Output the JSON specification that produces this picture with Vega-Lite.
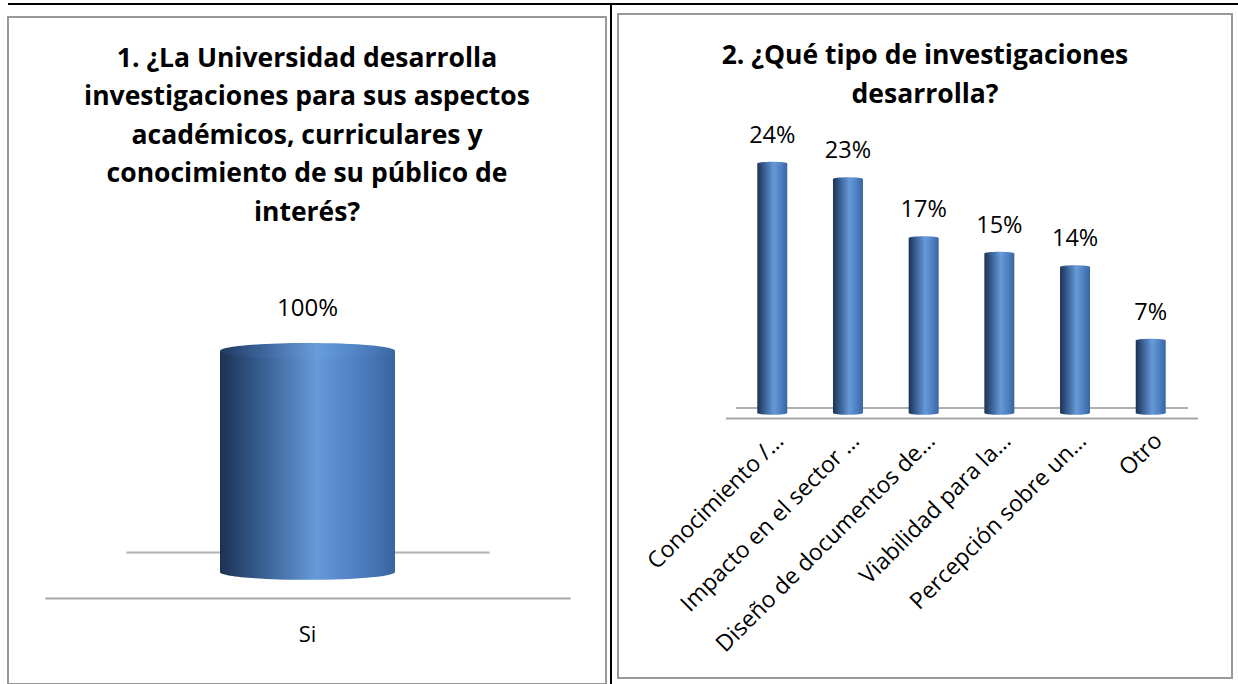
{
  "$schema": "https://vega.github.io/schema/vega-lite/v6.json",
  "padding": {"left": 7, "top": 3, "right": 0, "bottom": 0},
  "background": "white",
  "config": {"font": "Open Sans", "concat": {"spacing": 0}, "view": {"stroke": "#999999", "strokeWidth": 2}},
  "spacing": 0,
  "hconcat": [
    {
      "spacing": 11,
      "vconcat": [
        {
          "width": 602, "height": 2,
          "view": {"fill": "black", "stroke": null},
          "data": {"values": []},
          "mark": "text",
          "encoding": {}
        },
        {
          "width": 598, "height": 667,
          "title": {
            "text": ["1. ¿La Universidad desarrolla", "investigaciones para sus aspectos", "académicos, curriculares y", "conocimiento de su público de", "interés?"],
            "font": "Open Sans", "fontSize": 26.5, "fontWeight": "bold", "color": "black",
            "lineHeight": 38.5, "baseline": "alphabetic", "offset": -230, "anchor": "middle", "frame": "group"
          },
          "data": {"values": [{"respuesta": "Si", "pct": 1.0}]},
          "resolve": {"scale": {"x": "independent"}, "axis": {"x": "independent"}},
          "layer": [
            {
              "mark": {"type": "bar", "color": {"gradient": "linear", "x1": 0, "y1": 0, "x2": 1, "y2": 0, "stops": [
                {"offset": 0, "color": "#1c3253"}, {"offset": 0.25, "color": "#3a6194"}, {"offset": 0.55, "color": "#6699d8"}, {"offset": 0.8, "color": "#4c7ec0"}, {"offset": 1, "color": "#3a64a0"}]}},
              "encoding": {
                "x": {
                  "field": "respuesta", "type": "nominal",
                  "scale": {"type": "band", "range": [37, 562], "paddingInner": 0, "paddingOuter": 1.0},
                  "axis": {"title": null, "labelAngle": 0, "labelFontSize": 22, "labelColor": "black", "labelFont": "Open Sans",
                           "ticks": false, "tickSize": 0, "labelPadding": 26, "domainColor": "#a6a6a6", "domainWidth": 2, "offset": -86}
                },
                "y": {"field": "pct", "type": "quantitative", "scale": {"domain": [-0.507, 2.511], "nice": false, "zero": false}, "axis": null}
              }
            },
            {
              "mark": {"type": "point", "filled": true, "opacity": 1, "strokeWidth": 0, "shape": "M-1,0A1,0.09,0,1,0,1,0A1,0.09,0,1,0,-1,0Z",
                       "color": {"gradient": "linear", "x1": 0, "y1": 0, "x2": 1, "y2": 0, "stops": [
                {"offset": 0, "color": "#1c3253"}, {"offset": 0.25, "color": "#3a6194"}, {"offset": 0.55, "color": "#6699d8"}, {"offset": 0.8, "color": "#4c7ec0"}, {"offset": 1, "color": "#3a64a0"}]}},
              "encoding": {
                "x": {"field": "respuesta", "type": "nominal", "scale": {"type": "band", "range": [37, 562], "paddingInner": 0, "paddingOuter": 1.0}, "axis": null},
                "y": {"datum": 0, "type": "quantitative", "axis": null}, "size": {"value": 30625}}
            },
            {
              "mark": {"type": "point", "filled": true, "opacity": 1, "strokeWidth": 0, "shape": "M-1,0A1,0.09,0,1,0,1,0A1,0.09,0,1,0,-1,0Z",
                       "color": {"gradient": "linear", "x1": 0, "y1": 0, "x2": 1, "y2": 0, "stops": [
                {"offset": 0, "color": "#203a60"}, {"offset": 0.25, "color": "#3d669c"}, {"offset": 0.55, "color": "#699cdb"}, {"offset": 0.8, "color": "#4f82c3"}, {"offset": 1, "color": "#3c67a3"}]}},
              "encoding": {
                "x": {"field": "respuesta", "type": "nominal", "scale": {"type": "band", "range": [37, 562], "paddingInner": 0, "paddingOuter": 1.0}, "axis": null},
                "y": {"field": "pct", "type": "quantitative", "axis": null}, "size": {"value": 30625}}
            },
            {
              "mark": {"type": "text", "align": "center", "baseline": "middle", "dy": -42, "fontSize": 24, "font": "Open Sans", "color": "black"},
              "encoding": {
                "x": {"field": "respuesta", "type": "nominal", "scale": {"type": "band", "range": [118, 481], "paddingInner": 0, "paddingOuter": 0.5},
                      "axis": {"orient": "top", "title": null, "labels": false, "ticks": false, "domainColor": "#b0b0b0", "domainWidth": 2, "offset": -535}},
                "y": {"field": "pct", "type": "quantitative", "axis": null},
                "text": {"field": "pct", "type": "quantitative", "format": ".0%"}}
            }
          ]
        }
      ]
    },
    {
      "width": 2, "height": 681,
      "view": {"fill": "black", "stroke": null},
      "data": {"values": []},
      "mark": "text",
      "encoding": {}
    },
    {
      "spacing": 8,
      "center": true,
      "vconcat": [
        {
          "width": 627, "height": 2,
          "view": {"fill": "black", "stroke": null},
          "data": {"values": []},
          "mark": "text",
          "encoding": {}
        },
        {
          "width": 614, "height": 664,
          "title": {
            "text": ["2. ¿Qué tipo de investigaciones", "desarrolla?"],
            "font": "Open Sans", "fontSize": 26.5, "fontWeight": "bold", "color": "black",
            "lineHeight": 38.5, "baseline": "alphabetic", "offset": -115, "anchor": "middle", "frame": "group"
          },
          "data": {"values": [
            {"tipo": "Conocimiento /…", "pct": 0.241},
            {"tipo": "Impacto en el sector …", "pct": 0.226},
            {"tipo": "Diseño de documentos de…", "pct": 0.169},
            {"tipo": "Viabilidad para la…", "pct": 0.154},
            {"tipo": "Percepción sobre un…", "pct": 0.141},
            {"tipo": "Otro", "pct": 0.070}
          ]},
          "resolve": {"scale": {"x": "independent"}, "axis": {"x": "independent"}},
          "layer": [
            {
              "mark": {"type": "bar", "color": {"gradient": "linear", "x1": 0, "y1": 0, "x2": 1, "y2": 0, "stops": [
                {"offset": 0, "color": "#1c3253"}, {"offset": 0.25, "color": "#3a6194"}, {"offset": 0.55, "color": "#6699d8"}, {"offset": 0.8, "color": "#4c7ec0"}, {"offset": 1, "color": "#3a64a0"}]}},
              "encoding": {
                "x": {
                  "field": "tipo", "type": "nominal", "sort": null,
                  "scale": {"type": "band", "range": [107.5, 579.5], "paddingInner": 0.604, "paddingOuter": 0.42},
                  "axis": {"title": null, "labelAngle": -45, "labelAlign": "right", "labelBaseline": "top", "labelFontSize": 23, "labelColor": "black", "labelFont": "Open Sans",
                           "labelLimit": 400, "ticks": false, "tickSize": 0, "labelPadding": 11, "domainColor": "#a6a6a6", "domainWidth": 2, "offset": -260}
                },
                "y": {"field": "pct", "type": "quantitative", "scale": {"domain": [-0.256, 0.3855], "nice": false, "zero": false}, "axis": null}
              }
            },
            {
              "mark": {"type": "point", "filled": true, "opacity": 1, "strokeWidth": 0, "shape": "M-1,0A1,0.12,0,1,0,1,0A1,0.12,0,1,0,-1,0Z",
                       "color": {"gradient": "linear", "x1": 0, "y1": 0, "x2": 1, "y2": 0, "stops": [
                {"offset": 0, "color": "#1c3253"}, {"offset": 0.25, "color": "#3a6194"}, {"offset": 0.55, "color": "#6699d8"}, {"offset": 0.8, "color": "#4c7ec0"}, {"offset": 1, "color": "#3a64a0"}]}},
              "encoding": {
                "x": {"field": "tipo", "type": "nominal", "sort": null, "scale": {"type": "band", "range": [107.5, 579.5], "paddingInner": 0.604, "paddingOuter": 0.42}, "axis": null},
                "y": {"datum": 0, "type": "quantitative", "axis": null}, "size": {"value": 900}}
            },
            {
              "mark": {"type": "point", "filled": true, "opacity": 1, "strokeWidth": 0, "shape": "M-1,0A1,0.12,0,1,0,1,0A1,0.12,0,1,0,-1,0Z",
                       "color": {"gradient": "linear", "x1": 0, "y1": 0, "x2": 1, "y2": 0, "stops": [
                {"offset": 0, "color": "#203a60"}, {"offset": 0.25, "color": "#3d669c"}, {"offset": 0.55, "color": "#699cdb"}, {"offset": 0.8, "color": "#4f82c3"}, {"offset": 1, "color": "#3c67a3"}]}},
              "encoding": {
                "x": {"field": "tipo", "type": "nominal", "sort": null, "scale": {"type": "band", "range": [107.5, 579.5], "paddingInner": 0.604, "paddingOuter": 0.42}, "axis": null},
                "y": {"field": "pct", "type": "quantitative", "axis": null}, "size": {"value": 900}}
            },
            {
              "mark": {"type": "text", "align": "center", "baseline": "middle", "dy": -28, "fontSize": 23.5, "font": "Open Sans", "color": "black"},
              "encoding": {
                "x": {"field": "tipo", "type": "nominal", "sort": null, "scale": {"type": "band", "range": [117.5, 569.6], "paddingInner": 0.604, "paddingOuter": 0.288},
                      "axis": {"orient": "top", "title": null, "labels": false, "ticks": false, "domainColor": "#b0b0b0", "domainWidth": 2, "offset": -393.5}},
                "y": {"field": "pct", "type": "quantitative", "axis": null},
                "text": {"field": "pct", "type": "quantitative", "format": ".0%"}}
            }
          ]
        }
      ]
    }
  ]
}
